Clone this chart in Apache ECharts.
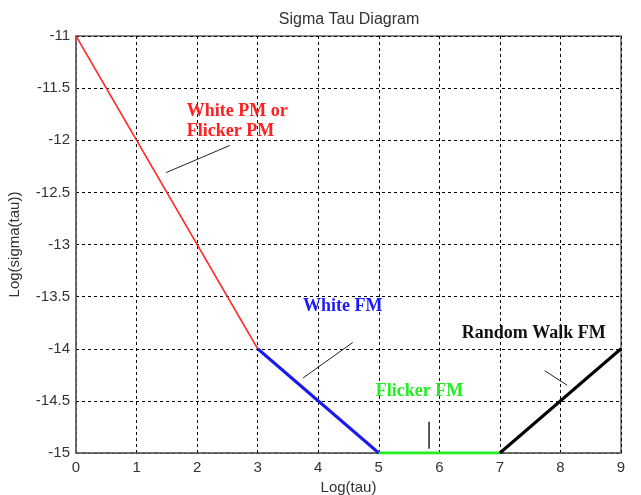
<!DOCTYPE html>
<html>
<head>
<meta charset="utf-8">
<script src="https://cdn.jsdelivr.net/npm/echarts@6/dist/echarts.min.js"></script>
<style>
  html, body { margin: 0; padding: 0; background: #fff; }
  #chart { width: 641px; height: 495px; }
</style>
</head>
<body>
<div id="chart"></div>
<script>
// segments of the sigma-tau diagram: [log(tau), log(sigma(tau))]
var whitePM = [[0, -11], [3, -14]];
var whiteFM = [[3, -14], [5, -15]];
var flickerFM = [[5, -15], [7, -15]];
var randomWalkFM = [[7, -15], [9, -14]];

// annotation labels and their pointer lines
var labelNames = ["White PM or\nFlicker PM", "White FM", "Flicker FM", "Random Walk FM"];
var labelPos = [[1.83, -11.82], [3.75, -13.59], [4.95, -14.41], [6.37, -13.85]];
var labelColors = ["#ff2020", "#1a1aff", "#22ee22", "#111111"];
var pointers = [
  [[1.49, -12.31], [2.54, -12.05]],
  [[3.75, -14.28], [4.57, -13.94]],
  [[5.83, -14.70], [5.83, -14.96]],
  [[7.74, -14.21], [8.11, -14.35]]
];

var chart = echarts.init(document.getElementById("chart"));

var series = [
  { type: "line", data: whitePM, showSymbol: false, lineStyle: { color: "#ff2a2a", width: 1.5 } },
  { type: "line", data: whiteFM, showSymbol: false, lineStyle: { color: "#1a1aee", width: 3 } },
  { type: "line", data: flickerFM, showSymbol: false, lineStyle: { color: "#22ee22", width: 3 } },
  { type: "line", data: randomWalkFM, showSymbol: false, lineStyle: { color: "#000", width: 3 } }
];

pointers.forEach(function (p, i) {
  series.push({
    type: "line", data: p, showSymbol: false, silent: true,
    lineStyle: { color: "#222", width: i == 2 ? 1.5 : 1 }
  });
});

series.push({
  type: "scatter",
  symbolSize: 0,
  silent: true,
  itemStyle: { opacity: 1 },
  data: labelPos.map(function (p, i) {
    return {
      value: p,
      label: {
        show: true, position: "right", distance: 0,
        formatter: labelNames[i],
        color: labelColors[i],
        fontFamily: "Liberation Serif", fontWeight: "bold", fontSize: 18,
        lineHeight: 20, align: "left"
      }
    };
  })
});

var axisFont = { fontFamily: "Liberation Sans", fontSize: 15, color: "#333" };

var option = {
  animation: false,
  title: {
    text: "Sigma Tau Diagram",
    left: 344, top: 7, textAlign: "center",
    textStyle: { fontFamily: "Liberation Sans", fontWeight: "normal", fontSize: 16, color: "#333" }
  },
  grid: {
    left: 76, right: 20, top: 36, bottom: 42,
    containLabel: false, outerBoundsMode: "none",
    show: true, borderColor: "#666", borderWidth: 1.5
  },
  xAxis: {
    type: "value", min: 0, max: 9, interval: 1,
    name: "Log(tau)", nameLocation: "middle", nameGap: 24,
    nameTextStyle: axisFont,
    axisLine: { lineStyle: { color: "#666", width: 1.5 } },
    axisTick: { show: false },
    axisLabel: Object.assign({ margin: 7 }, axisFont),
    splitLine: { lineStyle: { color: "#000", type: [3, 3], width: 1 } }
  },
  yAxis: {
    type: "value", min: -15, max: -11, interval: 0.5,
    name: "Log(sigma(tau))", nameLocation: "middle", nameGap: 54,
    nameTextStyle: axisFont,
    axisLine: { show: true, lineStyle: { color: "#666", width: 1.5 } },
    axisTick: { show: false },
    axisLabel: Object.assign({ margin: 6 }, axisFont),
    splitLine: { lineStyle: { color: "#000", type: [3, 3], width: 1 } }
  },
  series: series
};

chart.setOption(option);
</script>
</body>
</html>
